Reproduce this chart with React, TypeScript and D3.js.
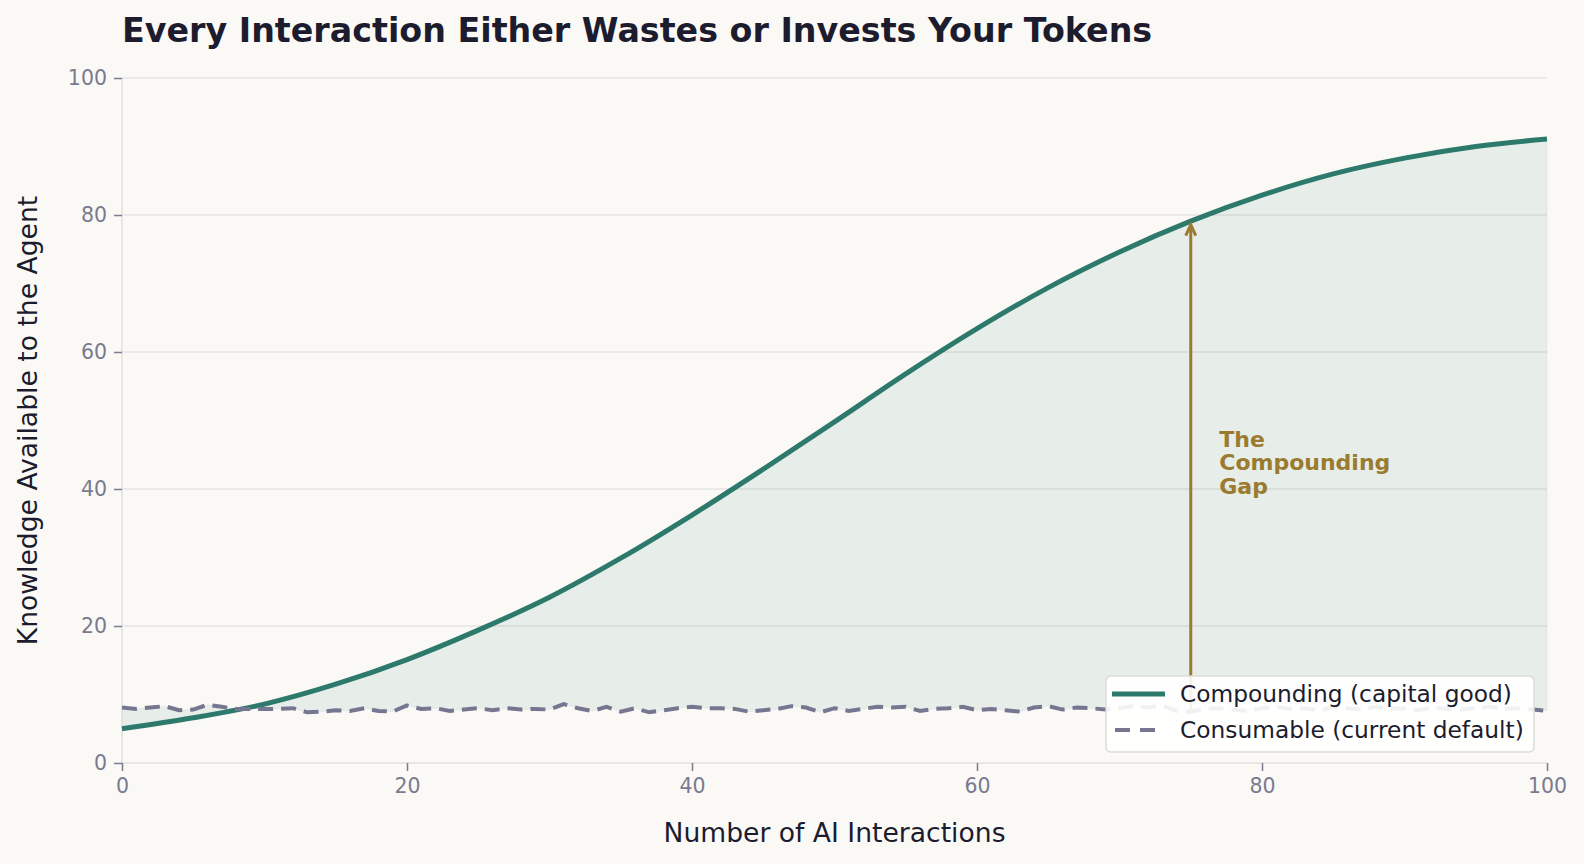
import React, { useEffect, useRef } from 'react'
import * as d3 from 'd3'

// compounding curve, read every 5 interactions
const compoundingSteps = [0, 5, 10, 15, 20, 25, 30, 35, 40, 45, 50, 55, 60, 65, 70, 75, 80, 85, 90, 95, 100]
const compoundingValues = [5.0, 6.6, 8.6, 11.5, 15.1, 19.4, 24.2, 29.9, 36.2, 42.9, 49.8, 56.8, 63.4, 69.4, 74.6, 79.1, 82.9, 86.0, 88.3, 90.0, 91.1]

// consumable line, one value per interaction 0..100
const consumableValues = [
  8.1, 7.9, 8.1, 8.3, 7.7, 7.8, 8.5, 8.2, 7.9, 7.9,
  7.9, 7.9, 8.0, 7.4, 7.5, 7.7, 7.6, 8.0, 7.6, 7.5,
  8.4, 7.9, 8.0, 7.6, 7.8, 8.0, 7.7, 8.0, 7.8, 7.9,
  7.8, 8.6, 8.0, 7.6, 8.2, 7.5, 8.0, 7.4, 7.7, 8.0,
  8.2, 8.0, 8.0, 7.9, 7.5, 7.7, 7.9, 8.3, 8.1, 7.4,
  8.0, 7.6, 7.9, 8.2, 8.1, 8.2, 7.6, 7.9, 8.0, 8.2,
  7.7, 7.9, 7.7, 7.5, 8.1, 8.3, 7.8, 8.1, 8.0, 7.8,
  8.0, 8.3, 8.1, 8.4, 7.6, 7.5, 7.9, 8.0, 7.8, 7.6,
  8.0, 8.2, 7.9, 8.0, 7.7, 8.1, 8.0, 7.8, 8.2, 7.9,
  8.0, 7.7, 8.1, 7.9, 7.8, 8.0, 8.2, 7.9, 8.0, 7.8,
  7.6
]

const xTicks = [0, 20, 40, 60, 80, 100]
const yTicks = [0, 20, 40, 60, 80, 100]
const seriesNames = ['Compounding (capital good)', 'Consumable (current default)']
const gapLabel = ['The', 'Compounding', 'Gap']
const gapAt = 75
const gapLabelAt = { x: 77, y: 43.5 }

const W = 1584
const H = 864
const margin = { top: 78, right: 37, bottom: 101, left: 122 }

const TEAL = '#2d7a6c'
const GREY = '#767690'
const GOLD = '#9a7b2f'
const INK = '#1c1c2e'
const TICK = '#7a7a90'
const FONT = 'DejaVu Sans, sans-serif'

const App = () => {
  const ref = useRef<SVGSVGElement>(null)

  useEffect(() => {
    const svg = d3.select(ref.current)
    svg.selectAll('*').remove()

    const innerW = W - margin.left - margin.right
    const innerH = H - margin.top - margin.bottom

    const x = d3.scaleLinear().domain([0, 100]).range([0, innerW])
    const y = d3.scaleLinear().domain([0, 100]).range([innerH, 0])

    const comp = compoundingSteps.map((s, i) => ({ x: s, y: compoundingValues[i] }))
    const cons = consumableValues.map((v, i) => ({ x: i, y: v }))

    svg.append('rect').attr('width', W).attr('height', H).attr('fill', '#faf9f6')

    svg
      .append('text')
      .attr('x', margin.left)
      .attr('y', 42)
      .attr('fill', INK)
      .style('font-family', FONT)
      .style('font-weight', 'bold')
      .style('font-size', '33.3px')
      .text('Every Interaction Either Wastes or Invests Your Tokens')

    const g = svg.append('g').attr('transform', `translate(${margin.left},${margin.top})`)

    // grid
    g.selectAll('.grid')
      .data(yTicks.filter(t => t > 0))
      .enter()
      .append('line')
      .attr('x1', 0)
      .attr('x2', innerW)
      .attr('y1', d => y(d))
      .attr('y2', d => y(d))
      .attr('stroke', '#e6e4e0')
      .attr('stroke-width', 1.5)

    // fill between the two series
    const lineComp = d3.line<{ x: number; y: number }>().x(d => x(d.x)).y(d => y(d.y)).curve(d3.curveMonotoneX)
    const lineCons = d3.line<{ x: number; y: number }>().x(d => x(d.x)).y(d => y(d.y))
    const back = lineCons([...cons].reverse()) || ''
    g.append('path')
      .attr('d', (lineComp(comp) || '') + 'L' + back.slice(1) + 'Z')
      .attr('fill', TEAL)
      .attr('fill-opacity', 0.09)
      .attr('stroke', TEAL)
      .attr('stroke-opacity', 0.06)

    // spines
    g.append('line').attr('x1', 0).attr('x2', 0).attr('y1', 0).attr('y2', innerH).attr('stroke', '#e2e0dc').attr('stroke-width', 1.5)
    g.append('line').attr('x1', 0).attr('x2', innerW).attr('y1', innerH).attr('y2', innerH).attr('stroke', '#e2e0dc').attr('stroke-width', 1.5)

    // axes
    const yAxis = g.append('g').call(d3.axisLeft(y).tickValues(yTicks).tickSize(8).tickPadding(7))
    const xAxis = g
      .append('g')
      .attr('transform', `translate(0,${innerH})`)
      .call(d3.axisBottom(x).tickValues(xTicks).tickSize(8).tickPadding(7))
    ;[xAxis, yAxis].forEach(ax => {
      ax.select('.domain').remove()
      ax.selectAll('line').attr('stroke', TICK).attr('stroke-width', 1.5)
      ax.selectAll('text').attr('fill', TICK).style('font-family', FONT).style('font-size', '20.5px')
    })

    g.append('path')
      .attr('d', lineComp(comp))
      .attr('fill', 'none')
      .attr('stroke', TEAL)
      .attr('stroke-width', 5)

    g.append('path')
      .attr('d', lineCons(cons))
      .attr('fill', 'none')
      .attr('stroke', GREY)
      .attr('stroke-width', 4)
      .attr('stroke-dasharray', '15 8')

    // arrow for the gap
    const ax0 = x(gapAt)
    const yTop = y(78.6)
    g.append('line')
      .attr('x1', ax0)
      .attr('x2', ax0)
      .attr('y1', y(consumableValues[gapAt]))
      .attr('y2', yTop + 3)
      .attr('stroke', GOLD)
      .attr('stroke-width', 3)
    g.append('path')
      .attr('d', `M${ax0 - 5},${yTop + 11}L${ax0},${yTop}L${ax0 + 5},${yTop + 11}`)
      .attr('fill', 'none')
      .attr('stroke', GOLD)
      .attr('stroke-width', 3)
      .attr('stroke-linejoin', 'miter')

    const label = g
      .append('text')
      .attr('x', x(gapLabelAt.x))
      .attr('y', y(gapLabelAt.y))
      .attr('fill', GOLD)
      .style('font-family', FONT)
      .style('font-weight', 'bold')
      .style('font-size', '22px')
    gapLabel.forEach((t, i) => {
      label
        .append('tspan')
        .attr('x', x(gapLabelAt.x))
        .attr('dy', i === 0 ? -23.5 + 5 : 23.5)
        .text(t)
    })

    // axis titles
    svg
      .append('text')
      .attr('x', margin.left + innerW / 2)
      .attr('y', 842)
      .attr('text-anchor', 'middle')
      .attr('fill', INK)
      .style('font-family', FONT)
      .style('font-size', '26.6px')
      .text('Number of AI Interactions')
    svg
      .append('text')
      .attr('transform', `translate(37,${margin.top + innerH / 2}) rotate(-90)`)
      .attr('text-anchor', 'middle')
      .attr('fill', INK)
      .style('font-family', FONT)
      .style('font-size', '26.6px')
      .text('Knowledge Available to the Agent')

    // legend
    const lg = svg.append('g').attr('transform', 'translate(1106,676)')
    lg.append('rect')
      .attr('width', 428)
      .attr('height', 76)
      .attr('rx', 5)
      .attr('fill', '#ffffff')
      .attr('fill-opacity', 0.9)
      .attr('stroke', '#dedcd8')
      .attr('stroke-width', 1.5)
    seriesNames.forEach((name, i) => {
      const ry = 18 + i * 36
      lg.append('line')
        .attr('x1', 6)
        .attr('x2', 59)
        .attr('y1', ry)
        .attr('y2', ry)
        .attr('stroke', i === 0 ? TEAL : GREY)
        .attr('stroke-width', i === 0 ? 5 : 4)
        .attr('stroke-dasharray', i === 0 ? null : '15 10')
        .attr('stroke-dashoffset', i === 0 ? null : -3)
      lg.append('text')
        .attr('x', 74)
        .attr('y', ry + 8)
        .attr('fill', INK)
        .style('font-family', FONT)
        .style('font-size', '23.3px')
        .text(name)
    })
  }, [])

  return (
    <div style={{ position: 'absolute', left: 0, top: 0 }}>
      <svg ref={ref} width={W} height={H} style={{ display: 'block' }} />
    </div>
  )
}

export default App
